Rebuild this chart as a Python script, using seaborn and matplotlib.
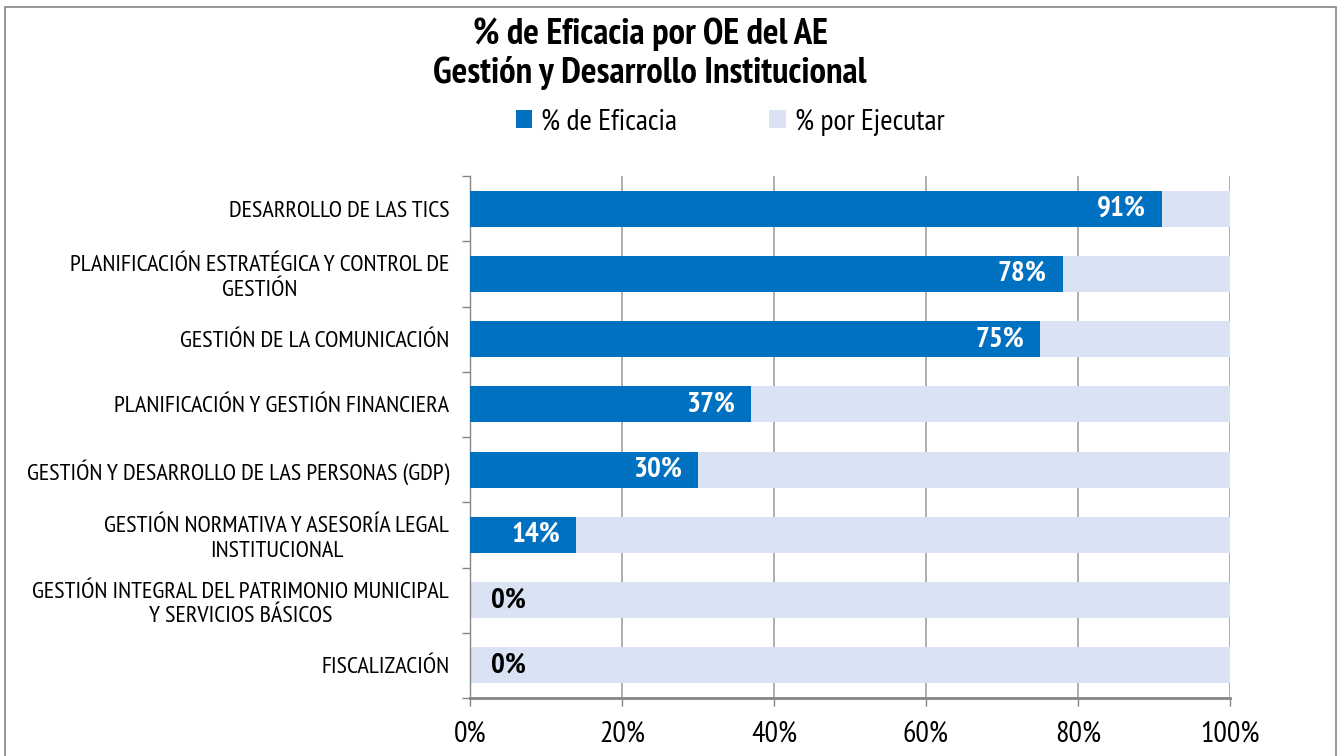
import matplotlib
matplotlib.use("Agg")
import matplotlib.pyplot as plt
import seaborn as sns
import pandas as pd
from matplotlib.patches import Rectangle, Patch
from matplotlib.ticker import FixedLocator
from matplotlib import font_manager

categorias = [
    "DESARROLLO DE LAS TICS",
    "PLANIFICACIÓN ESTRATÉGICA Y CONTROL DE\nGESTIÓN",
    "GESTIÓN DE LA COMUNICACIÓN",
    "PLANIFICACIÓN Y GESTIÓN FINANCIERA",
    "GESTIÓN Y DESARROLLO DE LAS PERSONAS (GDP)",
    "GESTIÓN NORMATIVA Y ASESORÍA LEGAL\nINSTITUCIONAL",
    "GESTIÓN INTEGRAL DEL PATRIMONIO MUNICIPAL\nY SERVICIOS BÁSICOS",
    "FISCALIZACIÓN",
]
eficacia = [91, 78, 75, 37, 30, 14, 0, 0]
por_ejecutar = [9, 22, 25, 63, 70, 86, 100, 100]
etiquetas_x = ["0%", "20%", "40%", "60%", "80%", "100%"]
titulo = "% de Eficacia por OE del AE\nGestión y Desarrollo Institucional"
serie_1 = "% de Eficacia"
serie_2 = "% por Ejecutar"

sns.set_theme(style="white")
avail = {f.name for f in font_manager.fontManager.ttflist}
fam = "PT Sans Narrow" if "PT Sans Narrow" in avail else "Liberation Sans"
plt.rcParams["font.family"] = [fam, "DejaVu Sans"]

C_EF = "#0070C0"
C_PE = "#DAE3F3"

df = pd.DataFrame({
    "cat": categorias,
    "ef": eficacia,
    "total": [a + b for a, b in zip(eficacia, por_ejecutar)],
})

fig = plt.figure(figsize=(13.38, 7.56), dpi=100)
ax = fig.add_axes([470 / 1338, 1 - 698 / 756, 760 / 1338, (698 - 176) / 756])

sns.barplot(data=df, y="cat", x="total", color=C_PE, width=0.55, ax=ax,
            saturation=1, orient="h", linewidth=0, zorder=2)
sns.barplot(data=df, y="cat", x="ef", color=C_EF, width=0.55, ax=ax,
            saturation=1, orient="h", linewidth=0, zorder=3)

ax.set_xlim(0, 100)
ax.set_ylim(len(categorias) - 0.5, -0.5)
ax.set_xticks([0, 20, 40, 60, 80, 100])
ax.set_xticklabels(etiquetas_x, fontsize=21.5)
ax.set_xlabel("")
ax.set_ylabel("")
ax.tick_params(axis="x", length=6, color="#868686", width=1, direction="out", pad=10, bottom=True)
ax.tick_params(axis="y", which="major", length=0, pad=15, labelsize=17.5)
ax.yaxis.set_minor_locator(FixedLocator([i - 0.5 for i in range(len(categorias) + 1)]))
ax.tick_params(axis="y", which="minor", length=6, color="#868686", width=1, left=True)
for lbl in ax.get_yticklabels():
    lbl.set_multialignment("center")
    lbl.set_color("black")
    lbl.set_linespacing(1.2)
for lbl in ax.get_xticklabels():
    lbl.set_color("black")

ax.grid(axis="x", color="#A0A0A0", linewidth=1.2, zorder=0)
ax.set_axisbelow(True)
for s in ["top", "right"]:
    ax.spines[s].set_visible(False)
ax.spines["left"].set_color("#868686")
ax.spines["left"].set_linewidth(1)
ax.spines["bottom"].set_color("#868686")
ax.spines["bottom"].set_linewidth(2)

for i, v in enumerate(eficacia):
    if v > 0:
        ax.text(v - 2.1, i, f"{v}%", ha="right", va="center", color="white",
                fontsize=21, fontweight="bold", zorder=5)
    else:
        ax.text(2.7, i, f"{v}%", ha="left", va="center", color="black",
                fontsize=21, fontweight="bold", zorder=5)

fig.text(650 / 1338, 1 - 54 / 756, titulo, ha="center", va="center",
         fontsize=26.5, fontweight="bold", linespacing=1.18, color="black")

handles = [Patch(facecolor=C_EF, edgecolor="none"), Patch(facecolor=C_PE, edgecolor="none")]
leg = fig.legend(handles, [serie_1, serie_2], loc="center", bbox_to_anchor=(730 / 1338, 1 - 122 / 756),
                 ncol=2, frameon=False, fontsize=21.5, handlelength=0.55, handleheight=0.55,
                 handletextpad=0.3, columnspacing=3.1)
for t in leg.get_texts():
    t.set_color("black")

fig.patches.append(Rectangle((5 / 1338, -0.01), 1331 / 1338, 1.01 - 7 / 756,
                             transform=fig.transFigure, fill=False,
                             edgecolor="#868686", linewidth=1.2))

fig.savefig("out.png", dpi=100, facecolor="white")
